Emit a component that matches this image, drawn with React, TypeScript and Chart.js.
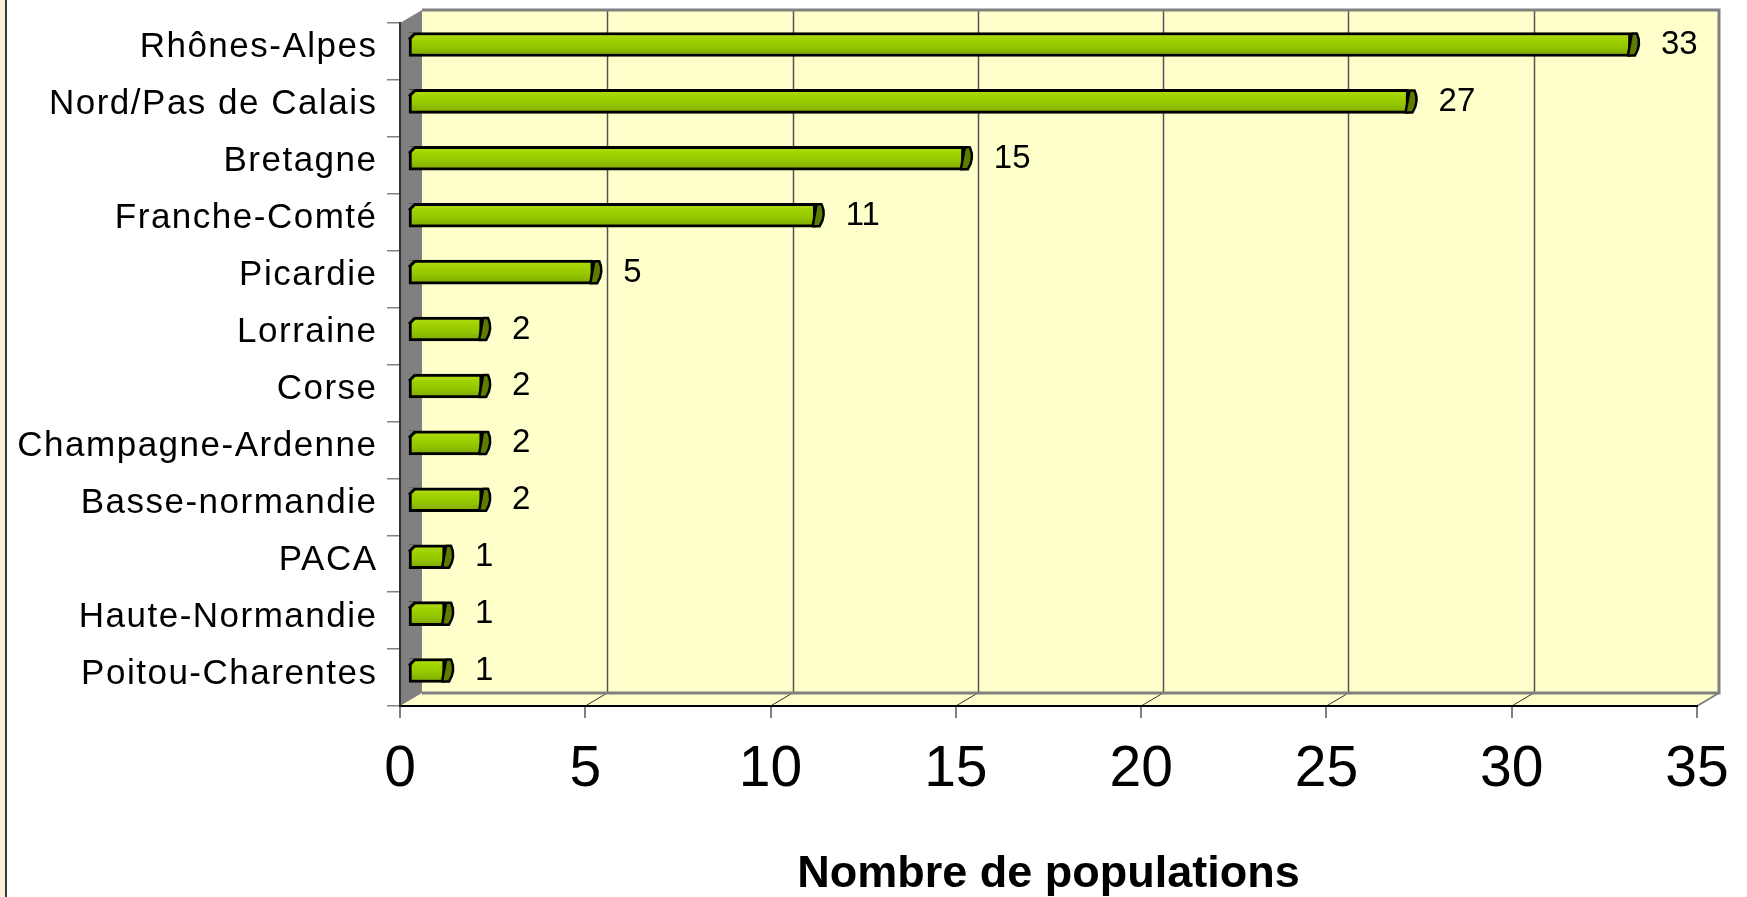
import React, { useEffect, useRef } from 'react';
import { Chart, registerables } from 'chart.js';

Chart.register(...registerables);

const categories = [
  'Rhônes-Alpes',
  'Nord/Pas de Calais',
  'Bretagne',
  'Franche-Comté',
  'Picardie',
  'Lorraine',
  'Corse',
  'Champagne-Ardenne',
  'Basse-normandie',
  'PACA',
  'Haute-Normandie',
  'Poitou-Charentes',
];
const populations = [33, 27, 15, 11, 5, 2, 2, 2, 2, 1, 1, 1];
const xTickValues = [0, 5, 10, 15, 20, 25, 30, 35];
const axisTitle = 'Nombre de populations';

const FONT = "'Liberation Sans', Arial, sans-serif";
const DX = 22;
const DY = -13;
const BAR_DX = 8;
const BAR_DY = -7;
const WALL = '#FFFFCC';
const GREY = '#808080';
const LABEL_SPACING = 1.5;

const barFill = (c: any) => {
  const chart = c.chart;
  const y = chart.scales && chart.scales.y;
  if (!y || c.dataIndex === undefined) return '#99cc00';
  const cy = y.getPixelForValue(c.dataIndex);
  if (!Number.isFinite(cy)) return '#99cc00';
  const g = chart.ctx.createLinearGradient(0, cy - 12, 0, cy + 12);
  g.addColorStop(0, '#b4e01a');
  g.addColorStop(0.3, '#a0d200');
  g.addColorStop(0.6, '#94c600');
  g.addColorStop(1, '#7ea600');
  return g;
};

const wallPlugin = {
  id: 'wall3d',
  beforeDraw(chart: any) {
    const { ctx, chartArea: a } = chart;
    const x = chart.scales.x;
    ctx.save();
    ctx.fillStyle = '#FCEFD9';
    ctx.fillRect(0, 0, 5, chart.height);
    ctx.fillStyle = '#3a3a3a';
    ctx.fillRect(5, 0, 2, chart.height);

    const bl = a.left + DX, br = a.right + DX, bt = a.top + DY, bb = a.bottom + DY;
    ctx.fillStyle = WALL;
    ctx.fillRect(bl, bt, br - bl, bb - bt);
    ctx.strokeStyle = '#555555';
    ctx.lineWidth = 1.5;
    xTickValues.forEach((v) => {
      if (v === xTickValues[0] || v === xTickValues[xTickValues.length - 1]) return;
      const gx = Math.round(x.getPixelForValue(v)) + DX + 0.5;
      ctx.beginPath();
      ctx.moveTo(gx, bt);
      ctx.lineTo(gx, bb);
      ctx.stroke();
    });
    ctx.fillStyle = WALL;
    ctx.beginPath();
    ctx.moveTo(a.left, a.bottom);
    ctx.lineTo(bl, bb);
    ctx.lineTo(br, bb);
    ctx.lineTo(a.right, a.bottom);
    ctx.closePath();
    ctx.fill();
    ctx.strokeStyle = '#333333';
    ctx.lineWidth = 1;
    xTickValues.forEach((v) => {
      if (v === xTickValues[0] || v === xTickValues[xTickValues.length - 1]) return;
      const fx = x.getPixelForValue(v);
      ctx.beginPath();
      ctx.moveTo(fx, a.bottom);
      ctx.lineTo(fx + DX, bb);
      ctx.stroke();
    });
    ctx.strokeStyle = GREY;
    ctx.lineWidth = 3;
    ctx.beginPath();
    ctx.moveTo(bl, bt);
    ctx.lineTo(br, bt);
    ctx.lineTo(br, bb);
    ctx.lineTo(bl, bb);
    ctx.stroke();
    ctx.lineWidth = 2;
    ctx.beginPath();
    ctx.moveTo(br, bb);
    ctx.lineTo(a.right, a.bottom);
    ctx.stroke();
    ctx.fillStyle = GREY;
    ctx.beginPath();
    ctx.moveTo(a.left, a.top);
    ctx.lineTo(bl, bt);
    ctx.lineTo(bl, bb);
    ctx.lineTo(a.left, a.bottom);
    ctx.closePath();
    ctx.fill();
    ctx.restore();
  },
  beforeDatasetsDraw(chart: any) {
    chart.ctx.save();
    chart.ctx.translate(BAR_DX, BAR_DY);
  },
  afterDatasetsDraw(chart: any) {
    const ctx = chart.ctx;
    const meta = chart.getDatasetMeta(0);
    meta.data.forEach((el: any) => {
      const p = el.getProps(['x', 'y', 'base', 'height'], true);
      const t = p.y - p.height / 2 + 1;
      const b = p.y + p.height / 2 - 1;
      const xe = p.x;
      ctx.beginPath();
      ctx.moveTo(xe - 3, b);
      ctx.lineTo(xe + 1, t);
      ctx.lineTo(xe + 6, t);
      ctx.quadraticCurveTo(xe + 11, (t + b) / 2, xe + 4, b);
      ctx.closePath();
      ctx.fillStyle = '#5e7c00';
      ctx.fill();
      ctx.strokeStyle = '#000';
      ctx.lineWidth = 2.5;
      ctx.lineJoin = 'round';
      ctx.stroke();
      const xs = p.base;
      ctx.beginPath();
      ctx.moveTo(xs - 1, t - 1);
      ctx.lineTo(xs + 6, t - 1);
      ctx.lineTo(xs - 1, t + 6);
      ctx.closePath();
      ctx.fillStyle = GREY;
      ctx.fill();
      ctx.beginPath();
      ctx.moveTo(xs + 6, t);
      ctx.lineTo(xs, t + 6);
      ctx.strokeStyle = '#000';
      ctx.lineWidth = 3;
      ctx.stroke();
    });
    ctx.restore();

    ctx.save();
    ctx.font = `33px ${FONT}`;
    ctx.fillStyle = '#000';
    ctx.textAlign = 'left';
    ctx.textBaseline = 'alphabetic';
    meta.data.forEach((el: any, i: number) => {
      const p = el.getProps(['x', 'y'], true);
      ctx.fillText(String(populations[i]), p.x + BAR_DX + 30, p.y + 2.5);
    });
    ctx.restore();
  },
  afterDraw(chart: any) {
    const ctx = chart.ctx;
    const y = chart.scales.y;
    ctx.save();
    ctx.font = `35px ${FONT}`;
    (ctx as any).letterSpacing = `${LABEL_SPACING}px`;
    ctx.fillStyle = '#000';
    ctx.textAlign = 'right';
    ctx.textBaseline = 'alphabetic';
    categories.forEach((c, i) => {
      const cy = y.getPixelForValue(i);
      ctx.fillText(c, chart.chartArea.left - 24 + LABEL_SPACING, cy + 6);
    });
    (ctx as any).letterSpacing = '0px';
    ctx.restore();
  },
};

export default function App() {
  const ref = useRef<HTMLCanvasElement | null>(null);

  useEffect(() => {
    if (!ref.current) return;
    const chart = new Chart(ref.current, {
      type: 'bar',
      data: {
        labels: categories,
        datasets: [
          {
            data: populations,
            backgroundColor: barFill as any,
            borderColor: '#000000',
            borderWidth: 3,
            borderSkipped: false,
            barThickness: 24,
            clip: false as any,
          },
        ],
      },
      options: {
        indexAxis: 'y',
        animation: false,
        responsive: false,
        maintainAspectRatio: false,
        layout: { padding: { top: 23, right: 50, left: 0, bottom: 0 } },
        plugins: {
          legend: { display: false },
          tooltip: { enabled: false },
          title: { display: false },
        },
        scales: {
          x: {
            type: 'linear',
            min: 0,
            max: 35,
            afterBuildTicks: (s: any) => {
              s.ticks = xTickValues.map((v) => ({ value: v }));
            },
            ticks: {
              font: { family: FONT, size: 57 },
              color: '#000',
              padding: 18,
              maxRotation: 0,
              autoSkip: false,
            },
            grid: {
              drawOnChartArea: false,
              drawTicks: true,
              tickLength: 12,
              color: GREY,
              lineWidth: 2,
            },
            border: { display: true, color: '#000', width: 2 },
            title: {
              display: true,
              text: axisTitle,
              font: { family: FONT, size: 45, weight: 'bold' },
              color: '#000',
              padding: { top: 0, bottom: -5 },
            },
            afterFit: (s: any) => {
              s.height = 191;
            },
          },
          y: {
            type: 'category',
            ticks: { display: false },
            grid: {
              offset: true,
              drawOnChartArea: false,
              drawTicks: true,
              tickLength: 13,
              color: GREY,
              lineWidth: 1.5,
            },
            border: { display: true, color: '#333', width: 2 },
            afterFit: (s: any) => {
              s.width = 400;
            },
          },
        },
      },
      plugins: [wallPlugin],
    });
    return () => chart.destroy();
  }, []);

  return (
    <div style={{ position: 'fixed', left: 0, top: 0, width: 1747, height: 897, background: '#fff' }}>
      <canvas ref={ref} width={1747} height={897} style={{ display: 'block', width: 1747, height: 897 }} />
    </div>
  );
}
